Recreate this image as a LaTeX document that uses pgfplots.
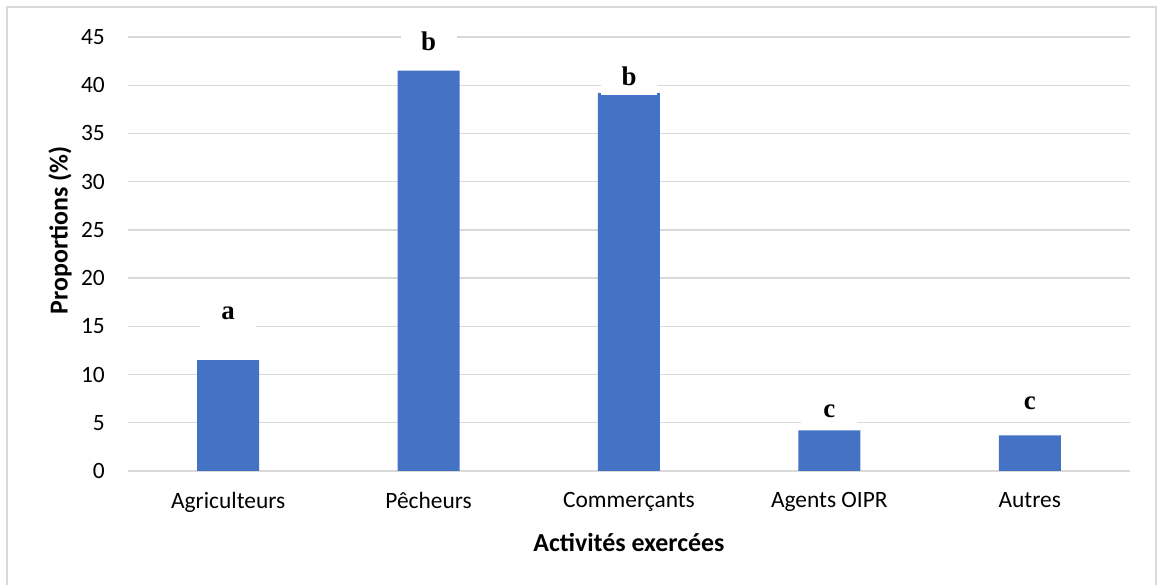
\documentclass[border=0pt]{standalone}
\usepackage{fontspec}
\setmainfont{Carlito}
\newfontfamily\timesfont{Liberation Serif}
\usepackage{pgfplots}
\pgfplotsset{compat=1.18}
\definecolor{barblue}{HTML}{4472C4}
\definecolor{gridgray}{HTML}{D9D9D9}
\begin{document}
\begin{tikzpicture}[x=1bp,y=1bp]
\path[use as bounding box] (0,0) rectangle (1159,585);
\draw[gridgray, line width=1.2bp] (7,-5) rectangle (1156,578);
\begin{axis}[
  at={(128bp,114bp)}, anchor=south west,
  scale only axis, width=1002bp, height=434bp,
  xmin=-0.5, xmax=4.5, ymin=0, ymax=45,
  ytick={0,5,...,45},
  xtick={0,...,4},
  xticklabels={Agriculteurs,Pêcheurs,Commerçants,Agents OIPR,Autres},
  /pgf/number format/assume math mode=true,
  axis line style={draw=none},
  major tick length=0pt,
  ymajorgrids,
  grid style={gridgray, line width=1.3bp},
  tick label style={font=\fontsize{23.5}{26}\selectfont, text=black},
  yticklabel style={inner sep=0pt, anchor=east, xshift=-23bp},
  xticklabel style={inner sep=0pt, anchor=north, yshift=-21bp},
  xlabel={\textbf{Activités exercées}},
  ylabel={\textbf{Proportions (\%)}},
  label style={font=\fontsize{26}{30}\selectfont},
  xlabel style={at={(axis description cs:0.5,-0.1636)}, anchor=center},
  ylabel style={at={(axis description cs:-0.0679,0.555)}, anchor=center},
  clip=false,
]
\addplot[ybar, bar width=62bp, fill=barblue, draw=none] coordinates {
  (0,11.5) (1,41.5) (2,39.2) (3,4.2) (4,3.7)
};
\addplot[draw=none, mark=none, nodes near coords, point meta=explicit symbolic,
  nodes near coords style={anchor=center, fill=white, inner sep=0pt,
    minimum width=56bp, minimum height=36bp,
    font=\timesfont\bfseries\fontsize{27}{27}\selectfont}]
  table[meta=lab] {
x y lab
0 16.4 a
1 44.6 b
2 40.9 b
3 6.2 c
4 7.05 c
};
\end{axis}
\end{tikzpicture}
\end{document}
